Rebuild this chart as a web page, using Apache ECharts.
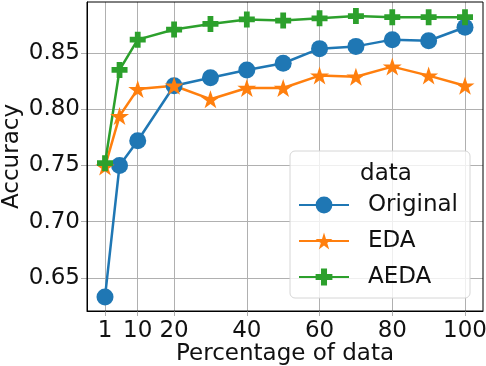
<!DOCTYPE html>
<html lang="en">
<head>
  <meta charset="UTF-8">
  <title>Accuracy vs percentage of data</title>
  <script src="https://cdn.jsdelivr.net/npm/echarts@6/dist/echarts.min.js"></script>
  <style>
    html, body { margin: 0; padding: 0; background: #fff; }
    #main { width: 486px; height: 366px; }
  </style>
</head>
<body>
<div id="main"></div>
<script>
  var percents = [1, 5, 10, 20, 30, 40, 50, 60, 70, 80, 90, 100];
  var original = [0.633, 0.750, 0.772, 0.821, 0.828, 0.835, 0.841, 0.854, 0.856, 0.862, 0.861, 0.873];
  var eda      = [0.749, 0.794, 0.818, 0.821, 0.809, 0.819, 0.819, 0.830, 0.829, 0.838, 0.830, 0.821];
  var aeda     = [0.752, 0.835, 0.862, 0.871, 0.876, 0.880, 0.879, 0.881, 0.883, 0.882, 0.882, 0.882];
  var xTicks = [1, 10, 20, 40, 60, 80, 100];
  var yTicks = [0.65, 0.70, 0.75, 0.80, 0.85];

  var FONT = 'DejaVu Sans';
  var starPath = 'path://M50 0 L61.23 34.55 L97.55 34.55 L68.16 55.9 L79.39 90.45 L50 69.1 L20.61 90.45 L31.84 55.9 L2.45 34.55 L38.77 34.55 Z';
  var plusPath = 'path://M32 0 H68 V32 H100 V68 H68 V100 H32 V68 H0 V32 H32 Z';

  function pairs(ys) {
    return percents.map(function (x, i) { return [x, ys[i]]; });
  }

  function makeSeries(name, ys, color, symbol, size) {
    return {
      name: name,
      type: 'line',
      data: pairs(ys),
      symbol: symbol,
      symbolSize: size,
      showAllSymbol: true,
      clip: false,
      lineStyle: { color: color, width: 2.5 },
      itemStyle: { color: color },
      emphasis: { disabled: true }
    };
  }

  var myChart = echarts.init(document.getElementById('main'), null, { renderer: 'canvas' });
  myChart.setOption({
    animation: false,
    backgroundColor: '#fff',
    textStyle: { fontFamily: FONT },
    grid: { left: 87, right: 3, top: 2, bottom: 55, outerBoundsMode: 'none', containLabel: false },
    title: {
      text: 'data',
      left: 381,
      top: 158,
      textAlign: 'center',
      textStyle: { fontFamily: FONT, fontSize: 23, fontWeight: 'normal', color: '#111' }
    },
    legend: {
      orient: 'vertical',
      left: 290,
      top: 151,
      padding: [42, 12, 9, 8],
      itemWidth: 50,
      itemHeight: 21,
      itemGap: 12,
      backgroundColor: 'rgba(255,255,255,0.8)',
      borderColor: '#d6d6d6',
      borderWidth: 1,
      borderRadius: 5,
      textStyle: { fontFamily: FONT, fontSize: 23, color: '#111', lineHeight: 24, padding: [0, 0, 0, 14] },
      data: ['Original', 'EDA', 'AEDA']
    },
    xAxis: {
      type: 'value',
      min: -3.95,
      max: 104.95,
      name: 'Percentage of data',
      nameLocation: 'middle',
      nameGap: 32,
      nameMoveOverlap: false,
      nameTextStyle: { fontFamily: FONT, fontSize: 23, color: '#111' },
      axisLine: { show: true, onZero: false, lineStyle: { color: '#000', width: 1 } },
      axisTick: { show: true, length: 5, customValues: xTicks, lineStyle: { color: '#b0b0b0' } },
      axisLabel: { fontFamily: FONT, fontSize: 23, color: '#111', margin: 9, customValues: xTicks },
      splitLine: { show: true, lineStyle: { color: '#b0b0b0', width: 1 } }
    },
    yAxis: {
      type: 'value',
      min: 0.6205,
      max: 0.8955,
      name: 'Accuracy',
      nameLocation: 'middle',
      nameGap: 63,
      nameMoveOverlap: false,
      nameTextStyle: { fontFamily: FONT, fontSize: 23, color: '#111' },
      axisLine: { show: true, onZero: false, lineStyle: { color: '#000', width: 1 } },
      axisTick: { show: true, length: 6, customValues: yTicks, lineStyle: { color: '#b0b0b0' } },
      axisLabel: {
        fontFamily: FONT, fontSize: 23, color: '#111', margin: 7, customValues: yTicks,
        formatter: function (v) { return v.toFixed(2); }
      },
      splitLine: { show: true, lineStyle: { color: '#b0b0b0', width: 1 } }
    },
    graphic: [{
      type: 'rect',
      shape: { x: 87, y: 2, width: 396, height: 309 },
      style: { fill: 'none', stroke: '#000', lineWidth: 1 },
      silent: true,
      z: 1
    }],
    series: [
      makeSeries('Original', original, '#1f77b4', 'circle', 17),
      makeSeries('EDA', eda, '#ff7f0e', starPath, [19, 18]),
      makeSeries('AEDA', aeda, '#2ca02c', plusPath, 16)
    ]
  });
</script>
</body>
</html>
